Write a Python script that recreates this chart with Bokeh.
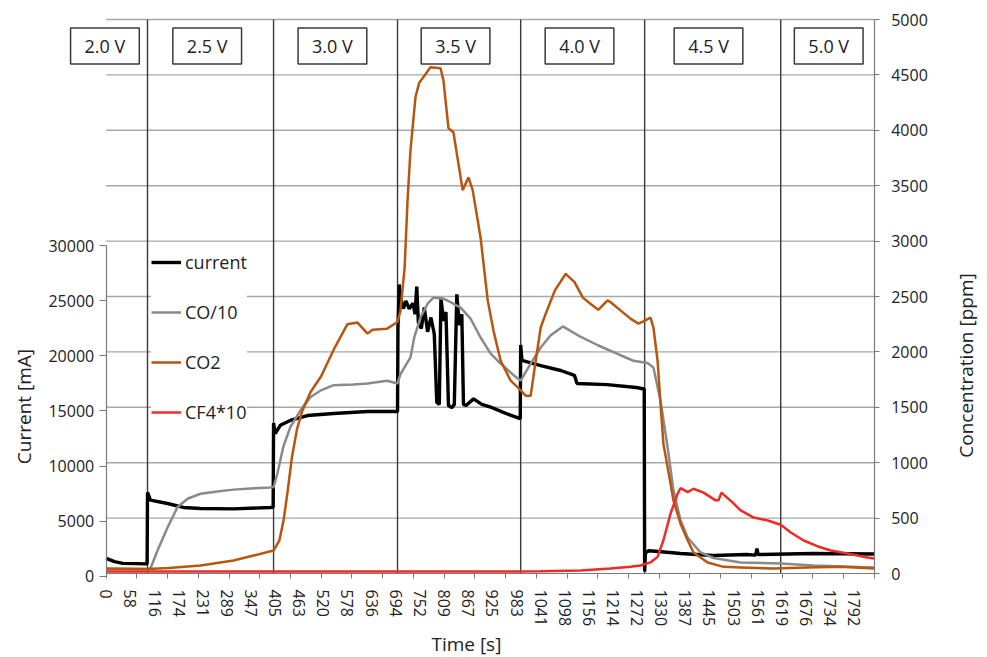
import math
from bokeh.plotting import figure
from bokeh.models import (Range1d, LinearAxis, FixedTicker, Legend, LegendItem, Label)
from bokeh.embed import file_html
from bokeh.resources import INLINE

FONT = "Open Sans"

# ---------------- data ----------------
time_tick_labels = [0, 58, 116, 174, 231, 289, 347, 405, 463, 520, 578, 636, 694, 752, 809,
                    867, 925, 983, 1041, 1098, 1156, 1214, 1272, 1330, 1387, 1445, 1503, 1561,
                    1619, 1676, 1734, 1792]
current_ticks = [0, 5000, 10000, 15000, 20000, 25000, 30000]
ppm_ticks = [0, 500, 1000, 1500, 2000, 2500, 3000, 3500, 4000, 4500, 5000]
step_times = [99, 401, 698, 993, 1290, 1616]
voltage_labels = ["2.0 V", "2.5 V", "3.0 V", "3.5 V", "4.0 V", "4.5 V", "5.0 V"]
voltage_label_times = [-3, 242, 542, 837, 1134, 1443, 1731]

current_t = [0, 20, 40, 98, 99, 106, 147, 185, 226, 305, 393, 400, 401, 405, 417, 441, 482, 545,
             626, 697, 698, 699, 702, 706, 712, 718, 726, 735, 740, 744, 748, 755, 762, 770, 778,
             786, 792, 798, 802, 808, 814, 820, 828, 834, 840, 846, 852, 856, 862, 880, 900, 925,
             950, 970, 992, 993, 996, 1041, 1089, 1122, 1128, 1200, 1270, 1289, 1290, 1292, 1300,
             1330, 1376, 1455, 1534, 1556, 1559, 1562, 1693, 1840]
current_mA = [1600, 1300, 1150, 1100, 7600, 6900, 6590, 6230, 6140, 6100, 6230, 6250, 13900, 12950,
              13700, 14140, 14590, 14770, 14950, 14950, 15000, 22500, 26500, 25200, 24300, 25000,
              24300, 24800, 23800, 26300, 23000, 22500, 24400, 22200, 23500, 22000, 15800, 15600,
              25300, 23200, 24000, 15500, 15300, 15600, 25600, 22800, 23800, 15600, 15500, 16100,
              15600, 15300, 14900, 14600, 14300, 21000, 19600, 19130, 18680, 18230, 17500, 17400,
              17140, 17000, 400, 2100, 2300, 2200, 2040, 1860, 1950, 1900, 2500, 1950, 2040, 2000]

co_t = [0, 99, 106, 123, 147, 171, 195, 226, 266, 305, 346, 393, 401, 410, 424, 441, 465, 489, 513,
        545, 592, 626, 673, 698, 705, 729, 738, 753, 770, 784, 808, 825, 849, 873, 897, 921, 945,
        976, 993, 1017, 1041, 1065, 1094, 1130, 1178, 1232, 1263, 1297, 1311, 1328, 1345, 1359,
        1376, 1393, 1424, 1455, 1520, 1616, 1695, 1840]
co_ppm = [40, 40, 45, 207, 415, 600, 675, 720, 740, 757, 767, 776, 780, 900, 1140, 1320, 1470, 1590,
          1650, 1700, 1705, 1715, 1740, 1715, 1800, 1950, 2130, 2310, 2435, 2490, 2480, 2450, 2400,
          2300, 2130, 1985, 1895, 1790, 1740, 1895, 2040, 2150, 2230, 2150, 2060, 1970, 1920, 1900,
          1860, 1560, 1140, 750, 480, 325, 190, 140, 100, 90, 72, 55]

co2_t = [0, 98, 150, 226, 305, 353, 401, 415, 425, 435, 445, 457, 470, 490, 515, 545, 578, 602, 626,
         638, 673, 698, 705, 715, 722, 729, 741, 750, 758, 777, 801, 808, 820, 832, 854, 868, 878,
         897, 914, 928, 945, 969, 986, 1005, 1017, 1029, 1041, 1053, 1075, 1101, 1122, 1142, 1160,
         1179, 1201, 1208, 1232, 1256, 1275, 1287, 1304, 1311, 1321, 1328, 1335, 1345, 1359, 1376,
         1393, 1407, 1441, 1479, 1520, 1599, 1680, 1759, 1840]
co2_ppm = [45, 40, 50, 72, 117, 162, 207, 300, 480, 750, 1050, 1300, 1470, 1640, 1780, 2020, 2250,
           2265, 2165, 2200, 2210, 2270, 2370, 2760, 3370, 3820, 4300, 4430, 4470, 4570, 4560, 4450,
           4020, 3980, 3460, 3575, 3460, 3030, 2465, 2190, 1920, 1740, 1680, 1605, 1605, 1920, 2220,
           2345, 2555, 2705, 2630, 2490, 2435, 2380, 2465, 2450, 2375, 2300, 2255, 2275, 2310, 2220,
           1920, 1535, 1170, 960, 660, 450, 300, 190, 100, 60, 55, 45, 55, 60, 45]

cf4_t = [0, 993, 1041, 1136, 1208, 1256, 1280, 1304, 1321, 1335, 1352, 1369, 1376, 1393, 1407, 1431,
         1460, 1467, 1474, 1501, 1520, 1551, 1585, 1616, 1640, 1671, 1705, 1736, 1776, 1824, 1840]
cf4_ppm = [18, 18, 20, 27, 45, 60, 72, 100, 150, 300, 540, 720, 770, 735, 765, 730, 660, 660, 730,
           640, 570, 505, 478, 440, 370, 298, 244, 208, 180, 145, 135]

# ---------------- figure ----------------
T_END = 1840
PPM_MAX = 5000
MA_MAX = 30000
TICK_MARK_STEP = 73.6

# the plot frame fills the whole canvas; axes are pinned at fixed data locations
p = figure(width=987, height=657,
           x_range=Range1d(-253.2, 2111.4), y_range=Range1d(-758.1, 5171.5),
           x_axis_location=None, y_axis_location=None,
           output_backend="svg", toolbar_location=None,
           min_border_left=0, min_border_right=0, min_border_top=0, min_border_bottom=0)
p.extra_y_ranges = {"mA": Range1d(-7409, 52318)}
p.outline_line_color = None
p.background_fill_color = "white"
p.border_fill_color = "white"
p.grid.visible = False

AX_COL = "#7a7a7a"
TXT_COL = "#222222"


def style_axis(ax, tick_out, standoff):
    ax.axis_line_color = AX_COL
    ax.axis_line_width = 1.2
    ax.major_tick_line_color = AX_COL
    ax.major_tick_out = tick_out
    ax.major_tick_in = 0
    ax.minor_tick_line_color = None
    ax.major_label_standoff = standoff
    ax.major_label_text_font = FONT
    ax.major_label_text_font_size = "16px"
    ax.major_label_text_color = TXT_COL


# right axis (ppm)
ra = LinearAxis(ticker=FixedTicker(ticks=ppm_ticks), fixed_location=T_END, bounds=(0, PPM_MAX))
style_axis(ra, 5, 12)
p.add_layout(ra, "right")

# left axis (mA)
la = LinearAxis(y_range_name="mA", ticker=FixedTicker(ticks=current_ticks), fixed_location=0,
                bounds=(0, MA_MAX))
style_axis(la, 7, 5)
p.add_layout(la, "left")

# bottom axis (time)
xa = LinearAxis(ticker=FixedTicker(ticks=time_tick_labels,
                                   minor_ticks=[k * TICK_MARK_STEP for k in range(26)]),
                fixed_location=0, bounds=(0, T_END))
style_axis(xa, 0, 11)
xa.major_tick_line_color = None
xa.minor_tick_line_color = AX_COL
xa.minor_tick_out = 5
xa.minor_tick_in = 0
xa.major_label_orientation = "vertical"
p.add_layout(xa, "below")

# horizontal grid lines (at the ppm ticks)
grid_levels = ppm_ticks[1:]
p.segment(x0=[0] * len(grid_levels), y0=grid_levels, x1=[T_END] * len(grid_levels),
          y1=grid_levels, line_color="#a8a8a8", line_width=1.4)

# voltage step lines
p.segment(x0=step_times, y0=[0] * len(step_times), x1=step_times,
          y1=[PPM_MAX] * len(step_times), line_color="#3a3a3a", line_width=1.4)

# series
r_cur = p.line(current_t, current_mA, y_range_name="mA", line_color="black", line_width=3.4)
r_co = p.line(co_t, co_ppm, line_color="#8a8a8a", line_width=2.5)
r_co2 = p.line(co2_t, co2_ppm, line_color="#b8560f", line_width=2.5)
r_cf4 = p.line(cf4_t, cf4_ppm, line_color="#ee2b24", line_width=2.5)

legend = Legend(items=[LegendItem(label="current", renderers=[r_cur]),
                       LegendItem(label="CO/10", renderers=[r_co]),
                       LegendItem(label="CO2", renderers=[r_co2]),
                       LegendItem(label="CF4*10", renderers=[r_cf4])],
                location=(151, 233), background_fill_color="white", background_fill_alpha=1.0,
                border_line_color=None, label_text_font=FONT, label_text_font_size="18px",
                label_text_color=TXT_COL, glyph_width=30, glyph_height=24, label_height=24,
                spacing=26, padding=5, label_standoff=4, margin=0)
p.add_layout(legend)

# voltage boxes
for txt, t in zip(voltage_labels, voltage_label_times):
    p.add_layout(Label(x=t, y=4760, text=txt, text_align="center", text_baseline="middle",
                       text_font=FONT, text_font_size="18px", text_color=TXT_COL,
                       border_line_color="#3a3a3a", border_line_width=1.5,
                       background_fill_color="white", background_fill_alpha=1.0,
                       padding=(14, 6)))

# axis titles
p.add_layout(Label(x=-196, y=1507, text="Current [mA]", angle=math.pi / 2, text_align="center",
                   text_baseline="middle", text_font=FONT, text_font_size="19px",
                   text_color=TXT_COL))
p.add_layout(Label(x=2059, y=1877, text="Concentration [ppm]", angle=math.pi / 2,
                   text_align="center", text_baseline="middle", text_font=FONT,
                   text_font_size="19px", text_color=TXT_COL))
p.add_layout(Label(x=863, y=-632, text="Time [s]", text_align="center", text_baseline="middle",
                   text_font=FONT, text_font_size="19px", text_color=TXT_COL))

open("out.html", "w").write(file_html(p, INLINE))
